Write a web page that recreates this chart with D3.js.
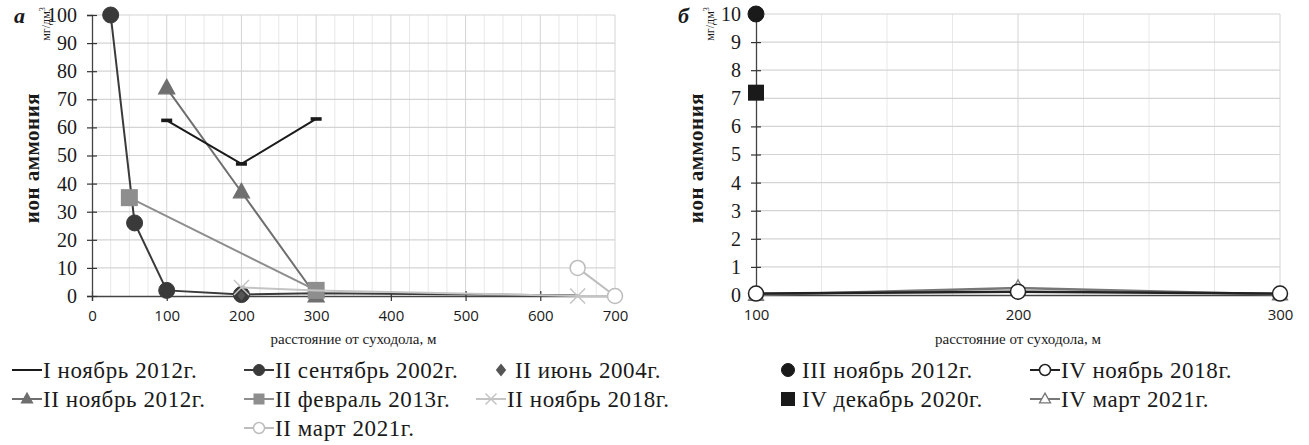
<!DOCTYPE html>
<html>
<head>
<meta charset="utf-8">
<script src="https://cdn.jsdelivr.net/npm/d3@7"></script>
<style>
  body { margin: 0; background: #fff; }
  text { fill: #1a1a1a; }
</style>
</head>
<body>
<svg></svg>
<script>
const width = 1309;
const height = 445;

// ---- panel а: distance (m) vs ammonium (mg/dm3)
const xTicksA = [0, 100, 200, 300, 400, 500, 600, 700];
const yTicksA = [0, 10, 20, 30, 40, 50, 60, 70, 80, 90, 100];
const a_I_nov2012 = [[100, 62.5], [200, 47], [300, 63]];
const a_II_sep2002 = [[25, 100], [57, 26], [100, 2], [200, 0.5], [300, 1], [650, 0.2]];
const a_II_jun2004 = [[200, 0.2]];
const a_II_nov2012 = [[100, 74], [200, 37], [300, 0]];
const a_II_feb2013 = [[50, 35], [300, 2]];
const a_II_nov2018 = [[200, 3], [300, 2], [650, 0], [700, 0]];
const a_II_mar2021 = [[650, 10], [700, 0]];

// ---- panel б
const xTicksB = [100, 200, 300];
const yTicksB = [0, 1, 2, 3, 4, 5, 6, 7, 8, 9, 10];
const b_III_nov2012 = [[100, 10]];
const b_IV_dec2020 = [[100, 7.2]];
const b_IV_nov2018 = [[100, 0.05], [200, 0.12], [300, 0.05]];
const b_IV_mar2021 = [[100, 0], [200, 0.25], [300, 0.02]];

const svg = d3.select('svg').attr('width', width).attr('height', height);
const serif = '"Liberation Serif", "DejaVu Serif", serif';
const sans = '"Open Sans", "Liberation Sans", sans-serif';

function marker(g, type, x, y, color, size) {
    if (type === 'circle') {
        g.append('circle').attr('cx', x).attr('cy', y).attr('r', size / 2)
            .attr('fill', color).attr('stroke', color);
    } else if (type === 'ocircle') {
        g.append('circle').attr('cx', x).attr('cy', y).attr('r', size / 2)
            .attr('fill', '#fff').attr('stroke', color).attr('stroke-width', 1.5);
    } else if (type === 'square') {
        g.append('rect').attr('x', x - size / 2).attr('y', y - size / 2)
            .attr('width', size).attr('height', size).attr('fill', color);
    } else if (type === 'triangle' || type === 'otriangle') {
        const h = size * 0.9;
        g.append('path')
            .attr('d', `M${x},${y - h * 0.6}L${x + size / 2},${y + h * 0.4}L${x - size / 2},${y + h * 0.4}Z`)
            .attr('fill', type === 'triangle' ? color : '#fff')
            .attr('stroke', color).attr('stroke-width', 1.3);
    } else if (type === 'diamond') {
        const s = size / 2;
        g.append('path').attr('d', `M${x},${y - s}L${x + s * 0.8},${y}L${x},${y + s}L${x - s * 0.8},${y}Z`)
            .attr('fill', color);
    } else if (type === 'x') {
        const s = size / 2;
        g.append('path').attr('d', `M${x - s},${y - s}L${x + s},${y + s}M${x - s},${y + s}L${x + s},${y - s}`)
            .attr('stroke', color).attr('stroke-width', 1.5).attr('fill', 'none');
    } else if (type === 'dash') {
        g.append('rect').attr('x', x - size / 2).attr('y', y - 1.8)
            .attr('width', size).attr('height', 3.6).attr('fill', color);
    }
}

function drawPanel(opt) {
    const x = d3.scaleLinear().domain(opt.xDomain).range(opt.xRange);
    const y = d3.scaleLinear().domain(opt.yDomain).range(opt.yRange);
    const g = svg.append('g');

    // minor vertical grid
    const minor = d3.range(opt.xDomain[0] + 25, opt.xDomain[1], 25).filter(v => v % 100 !== 0);
    g.selectAll('.vminor').data(minor).enter().append('line')
        .attr('x1', d => x(d)).attr('x2', d => x(d))
        .attr('y1', y.range()[0]).attr('y2', y.range()[1])
        .attr('stroke', '#e8e8e8').attr('stroke-width', 1);
    // major vertical grid
    g.selectAll('.vmajor').data(opt.xTicks.slice(1)).enter().append('line')
        .attr('x1', d => x(d)).attr('x2', d => x(d))
        .attr('y1', y.range()[0]).attr('y2', y.range()[1])
        .attr('stroke', '#d4d4d4').attr('stroke-width', 1);
    // horizontal grid
    g.selectAll('.hgrid').data(opt.yTicks.slice(1)).enter().append('line')
        .attr('x1', x.range()[0]).attr('x2', x.range()[1])
        .attr('y1', d => y(d)).attr('y2', d => y(d))
        .attr('stroke', '#d4d4d4').attr('stroke-width', 1.2);

    // axes
    const xAxis = g.append('g').attr('transform', `translate(0,${y.range()[0]})`)
        .call(d3.axisBottom(x).tickValues(opt.xTicks).tickSize(5).tickPadding(9));
    xAxis.select('.domain').attr('stroke', '#444').attr('stroke-width', 1.3);
    xAxis.selectAll('.tick line').attr('y1', -5).attr('stroke', '#333').attr('stroke-width', 1.2);
    xAxis.selectAll('.tick text').style('font-family', sans).style('font-size', '15px').attr('fill', '#333');

    const yAxis = g.append('g').attr('transform', `translate(${x.range()[0]},0)`)
        .call(d3.axisLeft(y).tickValues(opt.yTicks).tickSize(5).tickPadding(10));
    yAxis.select('.domain').attr('stroke', '#444').attr('stroke-width', 1.3);
    yAxis.selectAll('.tick line').attr('x1', 5).attr('stroke', '#333').attr('stroke-width', 1.2);
    yAxis.selectAll('.tick text').style('font-family', serif).style('font-size', '20px').attr('fill', '#1a1a1a');

    // titles
    const ax = x.range()[0];
    g.append('text').attr('x', ax - 78).attr('y', 23)
        .style('font-family', serif).style('font-size', '22px')
        .style('font-weight', 'bold').style('font-style', 'italic').text(opt.letter);
    g.append('text').attr('transform', `translate(${ax - 42},24) rotate(-90)`)
        .attr('text-anchor', 'middle')
        .style('font-family', serif).style('font-size', '12px')
        .html('мг/дм<tspan dy="-5" font-size="8">3</tspan>');
    g.append('text').attr('transform', `translate(${ax - 53},158) rotate(-90)`)
        .attr('text-anchor', 'middle')
        .style('font-family', serif).style('font-size', '21px').style('font-weight', 'bold')
        .style('letter-spacing', '0.5px')
        .text('ион аммония');
    g.append('text').attr('x', (x.range()[0] + x.range()[1]) / 2).attr('y', 344)
        .attr('text-anchor', 'middle')
        .style('font-family', serif).style('font-size', '15px')
        .text('расстояние от суходола, м');

    // series
    const line = d3.line().x(d => x(d[0])).y(d => y(d[1]));
    opt.series.forEach(s => {
        const sg = g.append('g');
        if (s.line && s.data.length > 1) {
            sg.append('path').datum(s.data).attr('d', line)
                .attr('fill', 'none').attr('stroke', s.lineColor || s.color)
                .attr('stroke-width', s.lw || 2);
        }
        const pts = s.hide ? s.data.filter(d => !s.hide.includes(d[0])) : s.data;
        pts.forEach(d => marker(sg, s.marker, x(d[0]), y(d[1]), s.color, s.size));
    });

    // legend
    opt.series.forEach(s => {
        const lg = svg.append('g');
        const lx = s.lx, ly = s.ly;
        let tx = lx + 31;
        if (s.line) {
            lg.append('line').attr('x1', lx).attr('x2', lx + 30).attr('y1', ly).attr('y2', ly)
                .attr('stroke', s.lineColor || s.color).attr('stroke-width', 2);
            if (s.marker !== 'dash') marker(lg, s.marker, lx + 15, ly, s.color, s.legSize || 11);
        } else {
            marker(lg, s.marker, lx + 6, ly, s.color, s.legSize || 11);
            tx = lx + 20;
        }
        lg.append('text').attr('x', tx).attr('y', ly + 8)
            .style('font-family', serif).style('font-size', '23px')
            .style('letter-spacing', '0.6px')
            .text(s.name);
    });
}

drawPanel({
    letter: 'а',
    xDomain: [0, 700], xRange: [92, 615],
    yDomain: [0, 100], yRange: [296, 15],
    xTicks: xTicksA, yTicks: yTicksA,
    series: [
        { name: 'II сентябрь 2002г.', data: a_II_sep2002, hide: [650], marker: 'circle', color: '#3a3a3a', size: 16, line: true, lx: 244, ly: 370 },
        { name: 'II июнь 2004г.', data: a_II_jun2004, marker: 'diamond', color: '#555', size: 10, line: false, lx: 495, ly: 370, legSize: 13 },
        { name: 'II ноябрь 2012г.', data: a_II_nov2012, marker: 'triangle', color: '#6f6f6f', size: 16, line: true, lx: 12, ly: 399 },
        { name: 'II февраль 2013г.', data: a_II_feb2013, marker: 'square', color: '#8e8e8e', size: 17, line: true, lx: 244, ly: 399 },
        { name: 'II ноябрь 2018г.', data: a_II_nov2018, hide: [300, 700], marker: 'x', color: '#c4c4c4', size: 15, line: true, lx: 476, ly: 399 },
        { name: 'II март 2021г.', data: a_II_mar2021, marker: 'ocircle', color: '#bdbdbd', size: 15, line: true, lx: 244, ly: 428 },
        { name: 'I ноябрь 2012г.', data: a_I_nov2012, marker: 'dash', color: '#1a1a1a', size: 11, line: true, lx: 12, ly: 370 }
    ]
});

drawPanel({
    letter: 'б',
    xDomain: [100, 300], xRange: [756, 1280],
    yDomain: [0, 10], yRange: [295, 14],
    xTicks: xTicksB, yTicks: yTicksB,
    series: [
        { name: 'IV март 2021г.', data: b_IV_mar2021, marker: 'otriangle', color: '#777', size: 15, line: true, lw: 2.5, lx: 1030, ly: 399 },
        { name: 'IV ноябрь 2018г.', data: b_IV_nov2018, marker: 'ocircle', color: '#222', size: 15, line: true, lw: 2.5, lx: 1030, ly: 370 },
        { name: 'IV декабрь 2020г.', data: b_IV_dec2020, marker: 'square', color: '#1a1a1a', size: 16, line: false, lx: 782, ly: 399, legSize: 14 },
        { name: 'III ноябрь 2012г.', data: b_III_nov2012, marker: 'circle', color: '#1a1a1a', size: 16, line: false, lx: 782, ly: 370, legSize: 13 }
    ]
});
</script>
</body>
</html>
